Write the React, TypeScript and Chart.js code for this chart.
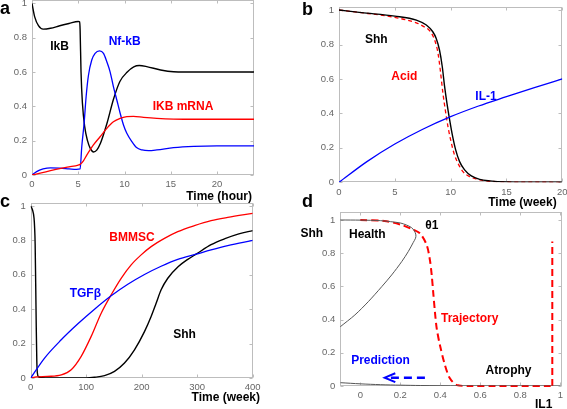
import React, { useEffect, useRef } from "react";
import { Chart, registerables } from "chart.js";
Chart.register(...registerables);

const W = 567;
const H = 409;

// ---------- Panel a (hours) ----------
const aTicksX = [0, 5, 10, 15, 20];
const aTickLabelsX = ["0", "5", "10", "15", "20"];
const aHoursIkB = [0, 0.3, 0.7, 1.2, 2, 3, 4, 5, 5.15, 5.2, 5.3, 5.45, 5.7, 6.0, 6.3, 6.65, 7.0, 7.4, 8.1, 8.8, 9.5, 10.3, 11.0, 11.6, 12.4, 13.9, 15.3, 18, 24];
const aIkB = [1.0, 0.92, 0.87, 0.85, 0.855, 0.87, 0.883, 0.895, 0.893, 0.85, 0.6, 0.42, 0.28, 0.2, 0.155, 0.134, 0.145, 0.185, 0.3, 0.44, 0.545, 0.6, 0.63, 0.638, 0.632, 0.612, 0.602, 0.6, 0.6];
const aHoursNf = [0, 0.5, 1.2, 2, 3, 4, 4.8, 5.2, 5.38, 5.63, 5.85, 6.1, 6.46, 6.82, 7.3, 7.73, 8.09, 8.45, 8.8, 9.17, 9.53, 9.9, 10.25, 10.8, 11.3, 11.9, 12.6, 13.5, 15.3, 17.5, 20, 24];
const aNf = [0, 0.02, 0.035, 0.042, 0.04, 0.036, 0.033, 0.035, 0.165, 0.3, 0.456, 0.58, 0.67, 0.709, 0.724, 0.709, 0.66, 0.6, 0.515, 0.437, 0.36, 0.29, 0.243, 0.194, 0.16, 0.146, 0.142, 0.146, 0.159, 0.167, 0.17, 0.17];
const aHoursMrna = [0, 1, 2, 3, 4, 5, 5.2, 5.56, 5.92, 6.64, 7.36, 8.09, 8.8, 9.53, 10.25, 10.97, 12.06, 13.5, 15.3, 18, 24];
const aMrna = [0, 0.012, 0.025, 0.037, 0.047, 0.058, 0.062, 0.083, 0.116, 0.175, 0.223, 0.272, 0.31, 0.33, 0.34, 0.342, 0.336, 0.33, 0.326, 0.325, 0.325];

// ---------- Panel b (weeks) ----------
const bTicksX = [0, 5, 10, 15, 20];
const bTickLabelsX = ["0", "5", "10", "15", "20"];
const bWeeksShh = [0, 2, 5, 6.93, 7.82, 8.4, 8.7, 9.0, 9.25, 9.46, 9.67, 9.91, 10.15, 10.45, 10.8, 11.25, 11.85, 12.6, 13.5, 15, 17.5, 20];
const bShh = [1.0, 0.985, 0.965, 0.942, 0.913, 0.874, 0.836, 0.768, 0.671, 0.555, 0.458, 0.362, 0.275, 0.188, 0.12, 0.072, 0.037, 0.017, 0.008, 0.002, 0.0005, 0];
const bWeeksAcid = [0, 2, 5, 6.93, 7.52, 8.12, 8.57, 8.87, 9.07, 9.31, 9.52, 9.76, 10.0, 10.3, 10.66, 11.1, 11.7, 12.6, 14, 15, 17.5, 20];
const bAcid = [1.0, 0.985, 0.957, 0.926, 0.907, 0.88, 0.826, 0.749, 0.652, 0.516, 0.42, 0.323, 0.246, 0.168, 0.11, 0.062, 0.033, 0.014, 0.004, 0.002, 0.0005, 0];
const bWeeksIL1 = [0, 2.5, 5, 7.5, 10, 12.5, 15, 17.5, 20];
const bIL1 = [0, 0.12, 0.222, 0.308, 0.381, 0.443, 0.497, 0.55, 0.6];

// ---------- Panel c (weeks) ----------
const cTicksX = [0, 100, 200, 300, 400];
const cTickLabelsX = ["0", "100", "200", "300", "400"];
const cWeeksShh = [0, 3, 6, 7, 8, 9, 10, 11, 12, 14, 20, 60, 100, 115, 133, 151, 169, 187, 205, 217, 226, 235, 247, 266, 283, 298, 325, 350, 375, 400];
const cShh = [1, 0.98, 0.93, 0.88, 0.78, 0.55, 0.3, 0.1, 0.03, 0.008, 0.002, 0, 0, 0.004, 0.014, 0.039, 0.087, 0.164, 0.27, 0.358, 0.435, 0.513, 0.58, 0.648, 0.69, 0.72, 0.775, 0.81, 0.838, 0.857];
const cWeeksBm = [0, 10, 30, 55, 73, 91, 109, 127, 145, 163, 181, 199, 217, 241, 265, 295, 325, 355, 400];
const cBm = [0, 0.006, 0.009, 0.018, 0.048, 0.126, 0.242, 0.377, 0.484, 0.58, 0.658, 0.716, 0.764, 0.812, 0.851, 0.886, 0.915, 0.934, 0.957];
const cWeeksTgf = [0, 25, 55, 85, 115, 145, 175, 205, 235, 265, 298, 325, 355, 400];
const cTgf = [0, 0.116, 0.222, 0.315, 0.4, 0.478, 0.545, 0.602, 0.65, 0.69, 0.72, 0.745, 0.77, 0.8];

// ---------- Panel d (IL1 vs Shh) ----------
const dTicksX = [0, 0.2, 0.4, 0.6, 0.8, 1];
const dTickLabelsX = ["0", "0.2", "0.4", "0.6", "0.8", "1"];
const dFoldIL1 = [-0.1, 0, 0.1, 0.15, 0.2, 0.23, 0.255, 0.27, 0.278, 0.276, 0.265, 0.24, 0.207, 0.157, 0.107, 0.04, -0.027, -0.1];
const dFoldShh = [1.0, 0.999, 0.996, 0.99, 0.982, 0.97, 0.955, 0.935, 0.91, 0.89, 0.865, 0.81, 0.749, 0.669, 0.598, 0.508, 0.428, 0.357];
const dLowIL1 = [-0.1, 0, 0.1, 0.2, 0.3, 0.5, 1.0];
const dLowShh = [0.02, 0.013, 0.008, 0.005, 0.003, 0.001, 0];
const dTrajIL1 = [0, 0.12, 0.207, 0.257, 0.298, 0.332, 0.348, 0.357, 0.365, 0.373, 0.382, 0.398, 0.423, 0.448, 0.482, 0.54, 0.96];
const dTrajShh = [1.0, 0.994, 0.97, 0.946, 0.92, 0.849, 0.759, 0.669, 0.558, 0.448, 0.347, 0.247, 0.127, 0.046, 0.006, 0, 0];
const dJumpIL1 = [0.96, 0.96];
const dJumpShh = [0, 0.87];
const dArrowIL1 = [0.323, 0.15];
const dArrowShh = [0.05, 0.05];
const dHeadIL1 = [0.175, 0.122, 0.175];
const dHeadShh = [0.077, 0.05, 0.023];

const yTicks = [0, 0.2, 0.4, 0.6, 0.8, 1];
const yTickLabels = ["0", "0.2", "0.4", "0.6", "0.8", "1"];

const AXIS = "#bdbdbd";
const TICKTXT = "#666666";
const RED = "#ff0000";
const BLUE = "#0000ff";
const BLACK = "#000000";
const LBL = "bold 12px 'Liberation Sans', Arial, sans-serif";
const LETTER = "bold 18px 'Liberation Sans', Arial, sans-serif";

type Txt = { t: string; x: number; y: number; c: string; f: string; a: CanvasTextAlign; b: CanvasTextBaseline };

function pts(xs: number[], ys: number[]) {
  return xs.map((x, i) => ({ x, y: ys[i] }));
}

function line(xs: number[], ys: number[], color: string, width: number, extra: any = {}) {
  return {
    data: pts(xs, ys),
    showLine: true,
    borderColor: color,
    backgroundColor: color,
    borderWidth: width,
    pointRadius: 0,
    fill: false,
    ...extra,
  };
}

interface Spec {
  area: { l: number; t: number; r: number; b: number };
  xMin: number; xMax: number; xTicks: number[]; xLabels: string[];
  yMax: number;
  datasets: any[];
  texts: Txt[];
}

function makeConfig(spec: Spec): any {
  const YW = 28;
  const XH = 20;
  const boxPlugin = {
    id: "matlabBox",
    beforeDatasetsDraw(chart: any) {
      const ctx = chart.ctx;
      const ca = chart.chartArea;
      const xs = chart.scales.x;
      const ys = chart.scales.y;
      const L = Math.round(ca.left) + 0.5;
      const R = Math.round(ca.right) - 0.5;
      const T = Math.round(ca.top) + 0.5;
      const B = Math.round(ca.bottom) - 0.5;
      ctx.save();
      ctx.strokeStyle = AXIS;
      ctx.lineWidth = 1;
      ctx.strokeRect(L, T, R - L, B - T);
      ctx.beginPath();
      spec.xTicks.forEach((v) => {
        const px = Math.round(xs.getPixelForValue(v)) + 0.5;
        ctx.moveTo(px, B); ctx.lineTo(px, B - 3);
        ctx.moveTo(px, T); ctx.lineTo(px, T + 3);
      });
      yTicks.forEach((v) => {
        const py = Math.round(ys.getPixelForValue(v)) + 0.5;
        ctx.moveTo(L, py); ctx.lineTo(L + 3, py);
        ctx.moveTo(R, py); ctx.lineTo(R - 3, py);
      });
      ctx.stroke();
      ctx.restore();
    },
    afterDraw(chart: any) {
      const ctx = chart.ctx;
      ctx.save();
      spec.texts.forEach((tx) => {
        ctx.font = tx.f;
        ctx.fillStyle = tx.c;
        ctx.textAlign = tx.a;
        ctx.textBaseline = tx.b;
        ctx.fillText(tx.t, tx.x, tx.y);
      });
      ctx.restore();
    },
  };
  const tickFont = { family: "'Liberation Sans', Arial, sans-serif", size: 9.5 };
  return {
    type: "scatter",
    data: { datasets: spec.datasets },
    plugins: [boxPlugin],
    options: {
      animation: false,
      responsive: false,
      devicePixelRatio: 1,
      events: [],
      layout: {
        padding: {
          left: spec.area.l - YW,
          right: W - spec.area.r,
          top: spec.area.t,
          bottom: H - spec.area.b - XH,
        },
      },
      plugins: { legend: { display: false }, tooltip: { enabled: false } },
      elements: { point: { radius: 0 } },
      scales: {
        x: {
          type: "linear",
          min: spec.xMin,
          max: spec.xMax,
          grid: { display: false, drawTicks: false },
          border: { display: false },
          afterBuildTicks: (s: any) => {
            s.ticks = spec.xTicks.map((v) => ({ value: v }));
          },
          afterFit: (s: any) => {
            s.height = XH;
            s.paddingLeft = 0; s.paddingRight = 0; s.paddingTop = 0; s.paddingBottom = 0;
          },
          ticks: {
            autoSkip: false,
            maxRotation: 0,
            padding: 4,
            color: TICKTXT,
            font: tickFont,
            callback: (_v: any, i: number) => spec.xLabels[i],
          },
        },
        y: {
          type: "linear",
          min: 0,
          max: spec.yMax,
          grid: { display: false, drawTicks: false },
          border: { display: false },
          afterBuildTicks: (s: any) => {
            s.ticks = yTicks.map((v) => ({ value: v }));
          },
          afterFit: (s: any) => {
            s.width = YW;
            s.paddingLeft = 0; s.paddingRight = 0; s.paddingTop = 0; s.paddingBottom = 0;
          },
          ticks: {
            autoSkip: false,
            padding: 5,
            color: TICKTXT,
            font: tickFont,
            callback: (_v: any, i: number) => yTickLabels[i],
          },
        },
      },
    },
  };
}

const mono = { cubicInterpolationMode: "monotone" };

const specs: Spec[] = [
  {
    area: { l: 32, t: 0, r: 254, b: 175 },
    xMin: 0, xMax: 24, xTicks: aTicksX, xLabels: aTickLabelsX, yMax: 1.02,
    datasets: [
      line(aHoursMrna, aMrna, RED, 1.3, mono),
      line(aHoursNf, aNf, BLUE, 1.3, mono),
      line(aHoursIkB, aIkB, BLACK, 1.4, mono),
    ],
    texts: [
      { t: "a", x: 0, y: 13.5, c: BLACK, f: LETTER, a: "left", b: "alphabetic" },
      { t: "IkB", x: 59.5, y: 46.7, c: BLACK, f: LBL, a: "center", b: "middle" },
      { t: "Nf-kB", x: 124.7, y: 41.7, c: BLUE, f: LBL, a: "center", b: "middle" },
      { t: "IKB mRNA", x: 183, y: 106.7, c: RED, f: LBL, a: "center", b: "middle" },
      { t: "Time (hour)", x: 252, y: 196.5, c: BLACK, f: LBL, a: "right", b: "middle" },
    ],
  },
  {
    area: { l: 339, t: 7.3, r: 562.3, b: 182.3 },
    xMin: 0, xMax: 20, xTicks: bTicksX, xLabels: bTickLabelsX, yMax: 1.016,
    datasets: [
      line(bWeeksIL1, bIL1, BLUE, 1.3, mono),
      line(bWeeksShh, bShh, BLACK, 1.4, mono),
      line(bWeeksAcid, bAcid, RED, 1.3, { ...mono, borderDash: [4, 3] }),
    ],
    texts: [
      { t: "b", x: 302, y: 15, c: BLACK, f: LETTER, a: "left", b: "alphabetic" },
      { t: "Shh", x: 376.3, y: 40, c: BLACK, f: LBL, a: "center", b: "middle" },
      { t: "Acid", x: 404.3, y: 76.7, c: RED, f: LBL, a: "center", b: "middle" },
      { t: "IL-1", x: 486, y: 97, c: BLUE, f: LBL, a: "center", b: "middle" },
      { t: "Time (week)", x: 556.7, y: 202.3, c: BLACK, f: LBL, a: "right", b: "middle" },
    ],
  },
  {
    area: { l: 30.7, t: 203.3, r: 252.7, b: 378 },
    xMin: 0, xMax: 400, xTicks: cTicksX, xLabels: cTickLabelsX, yMax: 1.016,
    datasets: [
      line(cWeeksTgf, cTgf, BLUE, 1.3, mono),
      line(cWeeksBm, cBm, RED, 1.3, mono),
      line(cWeeksShh, cShh, BLACK, 1.4, mono),
    ],
    texts: [
      { t: "c", x: 0, y: 206.5, c: BLACK, f: LETTER, a: "left", b: "alphabetic" },
      { t: "BMMSC", x: 132, y: 237.3, c: RED, f: LBL, a: "center", b: "middle" },
      { t: "TGFβ", x: 85.3, y: 293.5, c: BLUE, f: LBL, a: "center", b: "middle" },
      { t: "Shh", x: 184.5, y: 334.7, c: BLACK, f: LBL, a: "center", b: "middle" },
      { t: "Time (week)", x: 260, y: 397.5, c: BLACK, f: LBL, a: "right", b: "middle" },
    ],
  },
  {
    area: { l: 340.3, t: 212, r: 561.7, b: 386 },
    xMin: -0.1, xMax: 1.007, xTicks: dTicksX, xLabels: dTickLabelsX, yMax: 1.048,
    datasets: [
      line(dFoldIL1, dFoldShh, "#555555", 1, { tension: 0.3, clip: false }),
      line(dLowIL1, dLowShh, "#555555", 1, { tension: 0.3 }),
      line(dTrajIL1, dTrajShh, RED, 2, { tension: 0.3, borderDash: [7, 4], clip: false }),
      line(dJumpIL1, dJumpShh, RED, 2, { borderDash: [7, 4], clip: false }),
      line(dArrowIL1, dArrowShh, BLUE, 2.5, { borderDash: [8, 5] }),
      line(dHeadIL1, dHeadShh, BLUE, 2, {}),
    ],
    texts: [
      { t: "d", x: 302, y: 207, c: BLACK, f: LETTER, a: "left", b: "alphabetic" },
      { t: "Shh", x: 311.8, y: 234, c: BLACK, f: LBL, a: "center", b: "middle" },
      { t: "Health", x: 367.3, y: 234.3, c: BLACK, f: LBL, a: "center", b: "middle" },
      { t: "θ1", x: 431.8, y: 226, c: BLACK, f: LBL, a: "center", b: "middle" },
      { t: "Trajectory", x: 469.7, y: 318.3, c: RED, f: LBL, a: "center", b: "middle" },
      { t: "Prediction", x: 380.5, y: 360.5, c: BLUE, f: LBL, a: "center", b: "middle" },
      { t: "Atrophy", x: 508.5, y: 370.8, c: BLACK, f: LBL, a: "center", b: "middle" },
      { t: "IL1", x: 535, y: 404.5, c: BLACK, f: LBL, a: "left", b: "middle" },
    ],
  },
];

function Panel({ spec }: { spec: Spec }) {
  const ref = useRef<HTMLCanvasElement | null>(null);
  useEffect(() => {
    if (!ref.current) return;
    const chart = new Chart(ref.current, makeConfig(spec));
    return () => chart.destroy();
  }, [spec]);
  return (
    <canvas
      ref={ref}
      width={W}
      height={H}
      style={{ position: "absolute", left: 0, top: 0, width: W, height: H }}
    />
  );
}

export default function App() {
  return (
    <div style={{ position: "fixed", left: 0, top: 0, width: W, height: H, background: "#ffffff", overflow: "hidden" }}>
      {specs.map((s, i) => (
        <Panel key={i} spec={s} />
      ))}
    </div>
  );
}
